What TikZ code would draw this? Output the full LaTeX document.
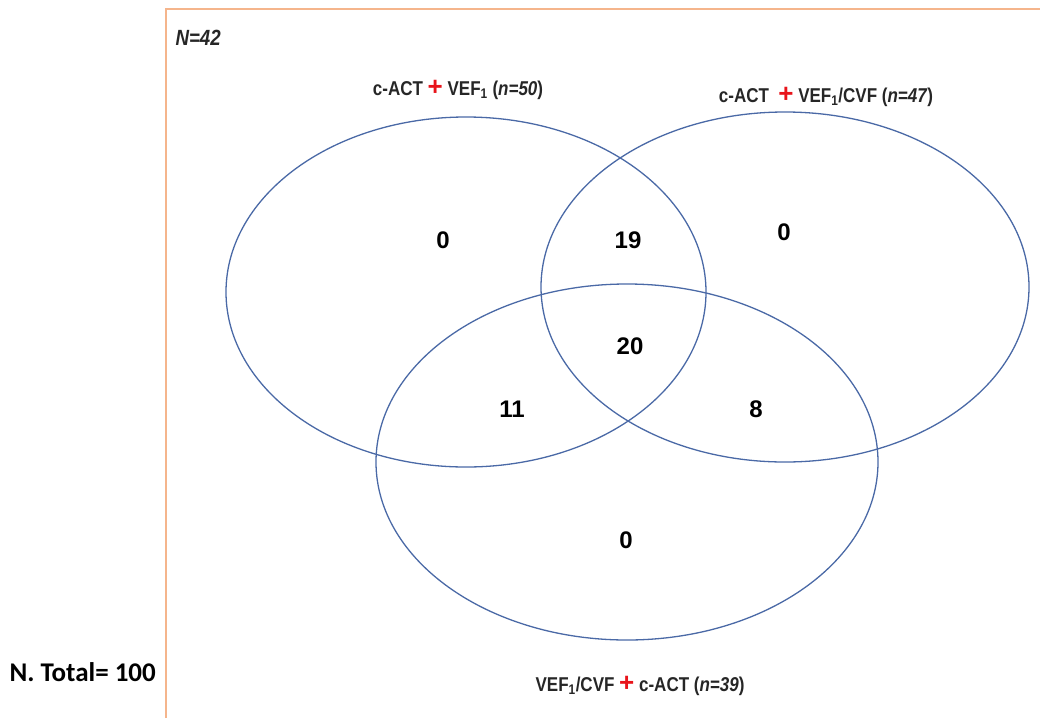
\documentclass[tikz,border=0pt]{standalone}
\usepackage{fontspec}
\setmainfont{Liberation Sans}
\newfontfamily\setfont[FakeStretch=0.85]{Liberation Sans}
\newfontfamily\totalfont{Carlito}
\usepackage{xcolor}
\definecolor{vennblue}{HTML}{4A69A6}
\definecolor{framepeach}{HTML}{F5B58C}
\definecolor{plusred}{HTML}{E8141B}
\tikzset{
  setline/.style={line width=1.3pt, vennblue},
  framebox/.style={line width=2.8pt, framepeach},
  count/.style={font=\bfseries\fontsize{24}{28}\selectfont},
  setlabel/.style={font=\setfont\bfseries\fontsize{20}{24}\selectfont, text=black!85},
}
\newcommand{\redplus}{\textcolor{plusred}{\setmainfont{Liberation Sans}\bfseries\fontsize{26}{26}\selectfont +}}

\begin{document}
\begin{tikzpicture}[x=1pt,y=1pt]
\useasboundingbox (0,0) rectangle (1040,-718);
\draw[framebox] (166,-718) -- (166,-9) -- (1040,-9);
\draw[setline] (466,-292) ellipse [x radius=240, y radius=175];
\draw[setline] (785,-287) ellipse [x radius=244, y radius=175];
\draw[setline] (627,-462) ellipse [x radius=251, y radius=178];
\node[setlabel] (lblA) at (458,-90) {c-ACT \redplus{} VEF\textsubscript{1} (\textit{n=50})};
\node[setlabel] (lblB) at (826,-97) {c-ACT \ \redplus{} VEF\textsubscript{1}/CVF (\textit{n=47})};
\node[setlabel] (lblC) at (640,-686) {VEF\textsubscript{1}/CVF \redplus{} c-ACT (\textit{n=39})};
\node[setlabel, font=\setfont\bfseries\itshape\fontsize{22}{24}\selectfont, anchor=west] (ntot) at (172,-38) {N=42};
\node[font=\totalfont\bfseries\fontsize{27}{30}\selectfont, anchor=west] (total) at (6,-672) {N. Total= 100};
\node[count] (onlyA) at (443,-240) {0};
\node[count] (ab) at (628,-240) {19};
\node[count] (onlyB) at (784,-232) {0};
\node[count] (abc) at (630,-346) {20};
\node[count] (ac) at (512,-409) {11};
\node[count] (bc) at (756,-409) {8};
\node[count] (onlyC) at (626,-540) {0};
\end{tikzpicture}
\end{document}
